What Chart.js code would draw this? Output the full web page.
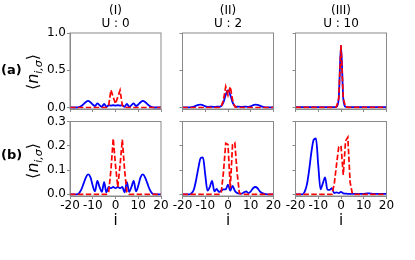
<!DOCTYPE html>
<html>
<head>
<meta charset="utf-8">
<script src="https://cdn.jsdelivr.net/npm/chart.js@4.4.0/dist/chart.umd.min.js"></script>
<style>
  body { margin: 0; background: #fff; width: 415px; height: 260px; overflow: hidden; position: relative; font-family: "DejaVu Sans", sans-serif; color: #000; }
  canvas { position: absolute; left: 0; top: 0; }
  .txt { position: absolute; white-space: nowrap; }
  .title { width: 80px; text-align: center; font-size: 12px; line-height: 13px; top: 4px; }
  .row { font-weight: bold; font-size: 13px; left: 1px; }
  .ylab { font-size: 16px; transform: translate(-50%, -50%) rotate(-90deg); }
  .xlab { font-size: 15px; top: 211px; transform: translateX(-50%); }
</style>
</head>
<body>
<canvas id="pa1" width="415" height="260"></canvas>
<canvas id="pa2" width="415" height="260"></canvas>
<canvas id="pa3" width="415" height="260"></canvas>
<canvas id="pb1" width="415" height="260"></canvas>
<canvas id="pb2" width="415" height="260"></canvas>
<canvas id="pb3" width="415" height="260"></canvas>

<div class="txt title" style="left:75.5px">(I)<br>U : 0</div>
<div class="txt title" style="left:188px">(II)<br>U : 2</div>
<div class="txt title" style="left:301px">(III)<br>U : 10</div>
<div class="txt row" style="top:62px">(a)</div>
<div class="txt row" style="top:147px">(b)</div>
<div class="txt ylab" style="left:34px; top:72px">⟨<i>n</i><sub style="font-size:11px"><i>i,σ</i></sub>⟩</div>
<div class="txt ylab" style="left:34px; top:161px">⟨<i>n</i><sub style="font-size:11px"><i>i,σ</i></sub>⟩</div>
<div class="txt xlab" style="left:115.5px">i</div>
<div class="txt xlab" style="left:228px">i</div>
<div class="txt xlab" style="left:341px">i</div>

<script>
// sitios de la cadena
const sites = [-20,-19,-18,-17,-16,-15,-14,-13,-12,-11,-10,-9,-8,-7,-6,-5,-4,-3,-2,-1,0,1,2,3,4,5,6,7,8,9,10,11,12,13,14,15,16,17,18,19,20];

// fila (a)
const blueA1 = [0,0,0,0,0.005,0.02,0.045,0.075,0.088,0.07,0.04,0.02,0.055,0.03,0.01,0.05,0.01,0.03,0.025,0.03,0.025,0.03,0.025,0.03,0.01,0.05,0.01,0.03,0.055,0.02,0.04,0.07,0.088,0.075,0.045,0.02,0.005,0,0,0,0];
const redA1  = [0,0,0,0,0,0,0,0,0,0,0,0,0,0,0,0,0,0.03,0.235,0.14,0.05,0.14,0.23,0.03,0,0,0,0,0,0,0,0,0,0,0,0,0,0,0,0,0];
const blueA2 = [0.003,0.003,0.003,0.003,0.006,0.012,0.025,0.035,0.038,0.03,0.015,0.008,0.012,0.01,0.008,0.012,0.01,0.02,0.07,0.17,0.23,0.17,0.07,0.02,0.01,0.012,0.008,0.01,0.012,0.008,0.015,0.03,0.038,0.035,0.025,0.012,0.006,0.003,0.003,0.003,0.003];
const redA2  = [0,0,0,0,0,0,0,0,0,0,0,0,0,0,0,0,0,0.01,0.1,0.28,0.165,0.28,0.1,0.01,0,0,0,0,0,0,0,0,0,0,0,0,0,0,0,0,0];
const blueA3 = [0.004,0.004,0.004,0.004,0.004,0.004,0.005,0.006,0.006,0.005,0.004,0.004,0.004,0.004,0.004,0.004,0.004,0.004,0.01,0.12,0.83,0.12,0.01,0.004,0.004,0.004,0.004,0.004,0.004,0.004,0.004,0.005,0.006,0.006,0.005,0.004,0.004,0.004,0.004,0.004,0.004];
const redA3  = [0.003,0.003,0.003,0.003,0.003,0.003,0.003,0.003,0.003,0.003,0.003,0.003,0.003,0.003,0.003,0.003,0.003,0.003,0.01,0.12,0.84,0.12,0.01,0.003,0.003,0.003,0.003,0.003,0.003,0.003,0.003,0.003,0.003,0.003,0.003,0.003,0.003,0.003,0.003,0.003,0.003];

// fila (b)
const blueB1 = [0,0,0,0,0.005,0.02,0.045,0.07,0.082,0.07,0.035,0.012,0.055,0.03,0.01,0.05,0.008,0.03,0.025,0.03,0.025,0.03,0.025,0.03,0.008,0.05,0.01,0.03,0.055,0.012,0.035,0.07,0.082,0.07,0.045,0.02,0.005,0,0,0,0];
const redB1  = [0,0,0,0,0,0,0,0,0,0,0,0,0,0,0,0,0,0.01,0.1,0.23,0.12,0.03,0.12,0.225,0.1,0.01,0,0,0,0,0,0,0,0,0,0,0,0,0,0,0];
const blueB2 = [0,0,0,0,0.005,0.02,0.06,0.11,0.15,0.152,0.08,0.015,0.03,0.055,0.012,0.022,0.01,0.015,0.02,0.02,0.04,0.015,0.035,0.015,0.005,0.003,0.003,0.008,0.012,0.005,0.012,0.025,0.03,0.025,0.012,0.005,0.002,0,0,0,0];
const redB2  = [0,0,0,0,0,0,0,0,0,0,0,0,0,0,0,0,0,0.005,0.09,0.21,0.205,0.025,0.205,0.212,0.09,0.005,0,0,0,0,0,0,0,0,0,0,0,0,0,0,0];
const blueB3 = [0,0,0,0,0.01,0.04,0.1,0.175,0.225,0.23,0.12,0.02,0.045,0.07,0.02,0.018,0.025,0.005,0.008,0.005,0.01,0.004,0.003,0.002,0.002,0.002,0.002,0.002,0.002,0.002,0.002,0.003,0.004,0.003,0.002,0.002,0.002,0.002,0.002,0.002,0.002];
const redB3  = [0,0,0,0,0,0,0,0,0,0,0,0,0,0,0,0,0,0.04,0.12,0.195,0.2,0.08,0.22,0.235,0.05,0.002,0,0,0,0,0,0,0,0,0,0,0,0,0,0,0];

const xTicks = [-20, -10, 0, 10, 20];

Chart.defaults.font.family = 'DejaVu Sans';
Chart.defaults.font.size = 12;
Chart.defaults.color = '#000';

const SPINE = '#8a8a8a';
const Y_W = 30;
const X_H = 20;
const colLeft = [70, 182.5, 295.5];
const panelW = 91;
const rowTop = [33, 121.5];
const rowBottom = [109, 196];
const rowScale = [
    { min: -0.02, max: 1.0, step: 0.5 },
    { min: -0.007, max: 0.3, step: 0.1 }
];

// marco completo alrededor del area del grafico
const framePlugin = {
    id: 'frame',
    afterDatasetsDraw(chart) {
        const a = chart.chartArea;
        const ctx = chart.ctx;
        ctx.save();
        ctx.strokeStyle = SPINE;
        ctx.lineWidth = 1;
        ctx.strokeRect(a.left, a.top, a.right - a.left, a.bottom - a.top);
        ctx.restore();
    }
};

function toPoints(values) {
    return sites.map((s, k) => ({ x: s, y: values[k] }));
}

const panels = [
    { id: 'pa1', blue: blueA1, red: redA1, row: 0, col: 0 },
    { id: 'pa2', blue: blueA2, red: redA2, row: 0, col: 1 },
    { id: 'pa3', blue: blueA3, red: redA3, row: 0, col: 2 },
    { id: 'pb1', blue: blueB1, red: redB1, row: 1, col: 0 },
    { id: 'pb2', blue: blueB2, red: redB2, row: 1, col: 1 },
    { id: 'pb3', blue: blueB3, red: redB3, row: 1, col: 2 }
];

panels.forEach(p => {
    const L = colLeft[p.col];
    const R = L + panelW;
    const T = rowTop[p.row];
    const B = rowBottom[p.row];
    const ys = rowScale[p.row];

    new Chart(document.getElementById(p.id), {
        type: 'line',
        data: {
            datasets: [{
                data: toPoints(p.blue),
                borderColor: '#0000ff',
                borderWidth: 1.8,
                pointRadius: 0,
                cubicInterpolationMode: 'monotone',
                order: 1
            }, {
                data: toPoints(p.red),
                borderColor: '#ff0000',
                borderWidth: 1.7,
                borderDash: [5.5, 2.4],
                pointRadius: 0,
                tension: 0,
                order: 0
            }]
        },
        options: {
            responsive: false,
            animation: false,
            devicePixelRatio: 1,
            layout: { padding: { left: L - Y_W, right: 415 - R, top: T, bottom: 260 - B - X_H } },
            plugins: { legend: { display: false }, tooltip: { enabled: false } },
            scales: {
                x: {
                    type: 'linear',
                    min: -20,
                    max: 20,
                    afterFit: s => { s.height = X_H; s.paddingLeft = 0; s.paddingRight = 0; },
                    afterBuildTicks: s => { s.ticks = xTicks.map(v => ({ value: v })); },
                    ticks: { display: p.row === 1, padding: 0, maxRotation: 0, autoSkip: false, callback: v => String(v) },
                    grid: { drawOnChartArea: false, tickLength: 3, tickColor: SPINE },
                    border: { color: SPINE }
                },
                y: {
                    min: ys.min,
                    max: ys.max,
                    afterFit: s => { s.width = Y_W; s.paddingTop = 0; s.paddingBottom = 0; },
                    ticks: { display: p.col === 0, stepSize: ys.step, includeBounds: false, padding: 1, callback: v => v.toFixed(1) },
                    grid: { drawOnChartArea: false, tickLength: 3, tickColor: SPINE },
                    border: { color: SPINE }
                }
            }
        },
        plugins: [framePlugin]
    });
});
</script>
</body>
</html>
